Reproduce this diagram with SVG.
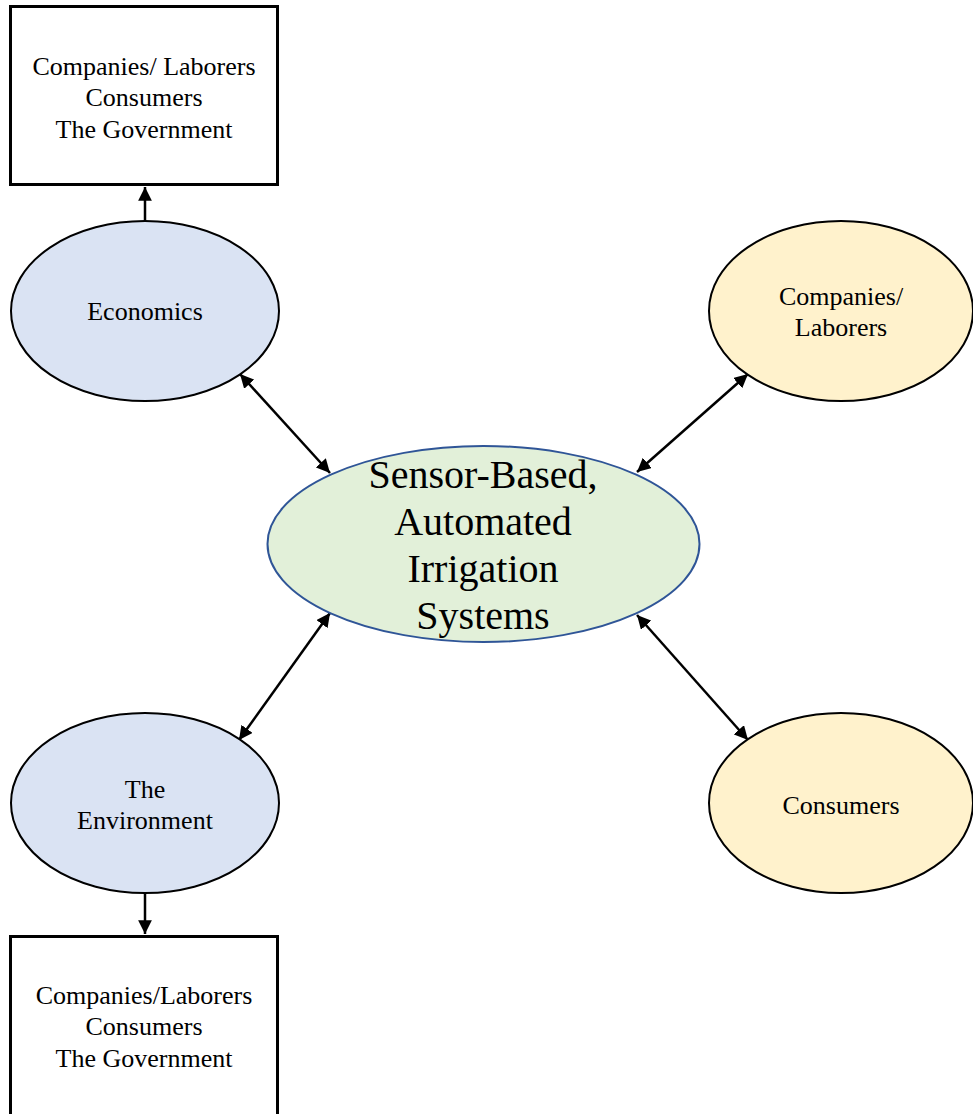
<svg xmlns="http://www.w3.org/2000/svg" width="973" height="1114" viewBox="0 0 973 1114">
<style>
text{font-family:"Liberation Serif","Times New Roman",serif;fill:#000;text-anchor:middle}
.t{font-size:26px}
.big{font-size:40px}
.box{fill:#fff;stroke:#000;stroke-width:3}
.ell{stroke:#000;stroke-width:2}
.blue{fill:#DAE3F3}
.yel{fill:#FFF2CC}
.con{stroke:#000;stroke-width:2.5;fill:none}
</style>
<defs>
<marker id="ah" viewBox="0 0 10 10" refX="10" refY="5" markerWidth="5.5" markerHeight="5.5" markerUnits="strokeWidth" orient="auto-start-reverse">
<path d="M0,0 L10,5 L0,10 z" fill="#000"/>
</marker>
</defs>
<g id="connectors">
<line class="con" x1="145" y1="221" x2="145" y2="187" marker-end="url(#ah)"/>
<line class="con" x1="145" y1="893" x2="145" y2="934" marker-end="url(#ah)"/>
<line class="con" x1="240" y1="374" x2="330" y2="473" marker-start="url(#ah)" marker-end="url(#ah)"/>
<line class="con" x1="748" y1="374" x2="637" y2="472" marker-start="url(#ah)" marker-end="url(#ah)"/>
<line class="con" x1="239" y1="740" x2="330" y2="613" marker-start="url(#ah)" marker-end="url(#ah)"/>
<line class="con" x1="748" y1="740" x2="637" y2="615" marker-start="url(#ah)" marker-end="url(#ah)"/>
</g>
<g id="top-box">
<rect class="box" x="10.5" y="6.5" width="267" height="178"/>
<text class="t" x="144" y="75">Companies/ Laborers</text>
<text class="t" x="144" y="106">Consumers</text>
<text class="t" x="144" y="138">The Government</text>
</g>
<g id="economics">
<ellipse class="ell blue" cx="145" cy="311" rx="134" ry="90"/>
<text class="t" x="145" y="320">Economics</text>
</g>
<g id="companies">
<ellipse class="ell yel" cx="841" cy="311" rx="132" ry="90"/>
<text class="t" x="841" y="305">Companies/</text>
<text class="t" x="841" y="336">Laborers</text>
</g>
<g id="center">
<ellipse cx="483.5" cy="544" rx="216" ry="98" fill="#E2F0D9" stroke="#2F5597" stroke-width="2"/>
<text class="big" x="483" y="488">Sensor-Based,</text>
<text class="big" x="483" y="535">Automated</text>
<text class="big" x="483" y="582">Irrigation</text>
<text class="big" x="483" y="629">Systems</text>
</g>
<g id="environment">
<ellipse class="ell blue" cx="145" cy="803" rx="134" ry="90"/>
<text class="t" x="145" y="798">The</text>
<text class="t" x="145" y="829">Environment</text>
</g>
<g id="consumers">
<ellipse class="ell yel" cx="841" cy="803" rx="132" ry="90"/>
<text class="t" x="841" y="814">Consumers</text>
</g>
<g id="bottom-box">
<rect class="box" x="10.5" y="936.5" width="267" height="190"/>
<text class="t" x="144" y="1004">Companies/Laborers</text>
<text class="t" x="144" y="1035">Consumers</text>
<text class="t" x="144" y="1067">The Government</text>
</g>
</svg>
